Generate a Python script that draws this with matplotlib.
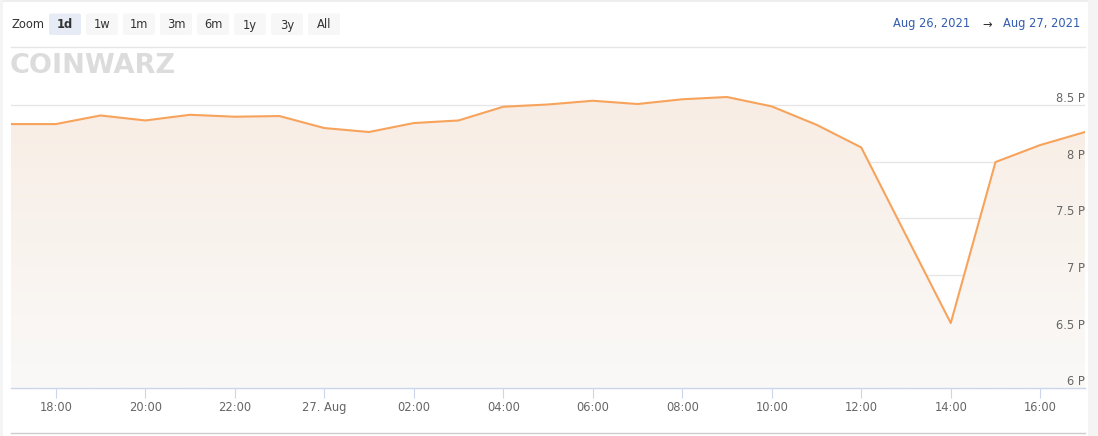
import matplotlib
matplotlib.use("Agg")
import matplotlib.pyplot as plt
import numpy as np
from matplotlib.patches import FancyBboxPatch, Rectangle
from matplotlib.transforms import blended_transform_factory, offset_copy

plt.rcParams["font.family"] = ["DejaVu Sans"]

# ---- data (hourly, starting Aug 26 17:00) ----
hours = list(range(25))
values = [8.332, 8.332, 8.408, 8.364, 8.414, 8.397, 8.403, 8.297, 8.262,
          8.341, 8.364, 8.485, 8.505, 8.538, 8.509, 8.551, 8.571, 8.488,
          8.326, 8.126, 7.35, 6.576, 7.997, 8.147, 8.262]
xtick_hours = [1, 3, 5, 7, 9, 11, 13, 15, 17, 19, 21, 23]
xtick_labels = ["18:00", "20:00", "22:00", "27. Aug", "02:00", "04:00",
                "06:00", "08:00", "10:00", "12:00", "14:00", "16:00"]
ytick_values = [6, 6.5, 7, 7.5, 8, 8.5]
ytick_labels = ["6 P", "6.5 P", "7 P", "7.5 P", "8 P", "8.5 P"]
zoom_buttons = ["1d", "1w", "1m", "3m", "6m", "1y", "3y", "All"]

W, H = 1098, 436
fig = plt.figure(figsize=(W / 100, H / 100), dpi=100)
fig.patch.set_facecolor("white")

# overlay axes in pixel coords
bg = fig.add_axes([0, 0, 1, 1])
bg.set_xlim(0, W)
bg.set_ylim(H, 0)
bg.axis("off")

# page edges
bg.add_patch(Rectangle((0, 0), W, 2, color="#eeeeee", lw=0))
bg.add_patch(Rectangle((0, 0), 3, H, color="#f4f4f4", lw=0))
bg.add_patch(Rectangle((1088, 0), 10, H, color="#f4f4f4", lw=0))

# header
bg.text(12, 25, "Zoom", fontsize=8.3, color="#333333", va="center", ha="left")
bx = 49
for i, lab in enumerate(zoom_buttons):
    x0 = bx + i * 37
    fc = "#e6ebf5" if i == 0 else "#f7f7f7"
    bg.add_patch(FancyBboxPatch((x0, 13.5), 32, 21.5,
                                boxstyle="round,pad=0,rounding_size=2",
                                fc=fc, ec="none"))
    bg.text(x0 + 16, 25, lab, fontsize=8.3, color="#333333",
            ha="center", va="center",
            fontweight="bold" if i == 0 else "normal")
bg.text(970, 24, "Aug 26, 2021", fontsize=8.3, color="#335cad",
        ha="right", va="center")
bg.text(987, 24, "\u2192", fontsize=8.3, color="#333333",
        ha="center", va="center")
bg.text(1080, 24, "Aug 27, 2021", fontsize=8.3, color="#335cad",
        ha="right", va="center")
bg.plot([11, 1085], [47, 47], color="#e6e6e6", lw=1)

# logo
bg.text(10, 66, "COINWARZ", fontsize=19.5, fontweight="heavy",
        color="#dcdcdc", ha="left", va="center")

# bottom navigator line
bg.plot([11, 1085], [433, 433], color="#cccccc", lw=1)

# ---- main chart ----
px_left, px_right = 11, 1085
px_top, px_bottom = 60, 388.3
ax = fig.add_axes([px_left / W, 1 - px_bottom / H,
                   (px_right - px_left) / W, (px_bottom - px_top) / H])
ax.patch.set_alpha(0)
ppu = 113.3
ax.set_xlim(0, 24)
ax.set_ylim(6, 6 + (px_bottom - px_top) / ppu)

for v in ytick_values[1:]:
    ax.axhline(v, color="#e6e6e6", lw=1, zorder=1)

# gradient fill under line
poly = ax.fill_between(hours, values, 6, color="none", zorder=2)
grad = np.linspace(0, 1, 256).reshape(-1, 1)
top_c = np.array([248, 237, 228]) / 255
bot_c = np.array([250, 249, 248]) / 255
ymax_fill = max(values)
img = top_c[None, None, :] * (1 - grad[:, :, None]) + bot_c[None, None, :] * grad[:, :, None]
im = ax.imshow(img, extent=[0, 24, 6, ymax_fill], aspect="auto",
               origin="upper", zorder=2)
im.set_clip_path(poly.get_paths()[0], transform=ax.transData)

ax.plot(hours, values, color="#f7a35c", lw=1.5, zorder=3,
        solid_joinstyle="round")

for s in ["top", "right", "left"]:
    ax.spines[s].set_visible(False)
ax.spines["bottom"].set_color("#ccd6eb")
ax.spines["bottom"].set_linewidth(1)
ax.set_yticks([])
ax.set_xticks(xtick_hours)
ax.set_xticklabels(xtick_labels, fontsize=8.3, color="#666666")
ax.tick_params(axis="x", direction="out", length=7.5, width=0.8,
               color="#ccd6eb", pad=2)

trans = blended_transform_factory(ax.transAxes, ax.transData)
trans = offset_copy(trans, fig=fig, x=0, y=0, units="dots")
for v, lab in zip(ytick_values, ytick_labels):
    ax.text(1.0, v, lab, transform=trans, ha="right", va="bottom",
            fontsize=8.3, color="#666666", zorder=4)

fig.savefig("out.png", dpi=100)
